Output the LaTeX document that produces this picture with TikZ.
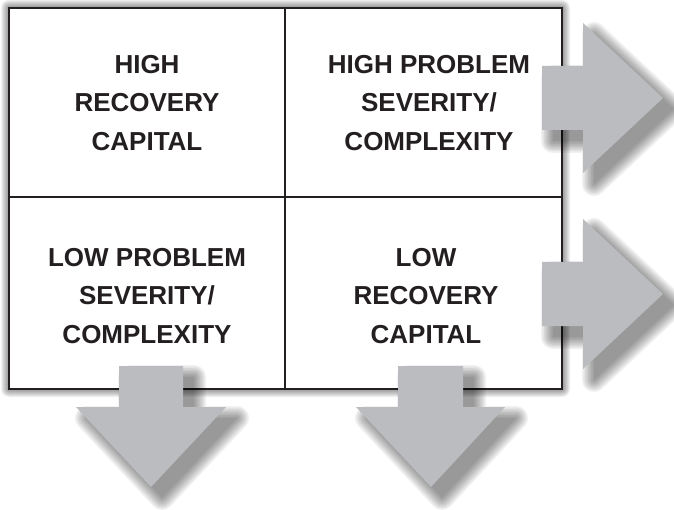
\documentclass[tikz,border=0pt]{standalone}
\usepackage{fontspec}
\setmainfont{Liberation Sans}
\definecolor{arrowgray}{HTML}{BBBCC0}
\definecolor{ink}{HTML}{231F20}
\newcommand{\softshadow}[4]{% #1 offset, #2 widths, #3 opacity, #4 path
  \begin{scope}[shift={(#1,#1)}]
    \foreach \w in {#2} {%
      \begin{scope}[transparency group, opacity=#3]
        \filldraw[black, line width=\w pt, line join=round] #4;
      \end{scope}}
    \begin{scope}[transparency group, opacity=#3]
      \fill[black] #4;
    \end{scope}
  \end{scope}}
\begin{document}
\begin{tikzpicture}[x=1pt,y=-1pt,
  celltext/.style={align=center, inner sep=0pt, text=ink, font=\fontsize{26}{38.5}\selectfont\bfseries},
  frame/.style={draw=ink, line width=2pt},
  arrowfill/.style={fill=arrowgray, draw=none}]
\useasboundingbox (0,0) rectangle (674,510);
% frame with shadow
\coordinate (tl) at (9,8);
\coordinate (br) at (562,389);
\coordinate (mt) at (285,8);
\coordinate (mb) at (285,389);
\coordinate (ml) at (9,197);
\coordinate (mr) at (562,197);
\softshadow{9}{16,14,...,2}{0.06}{(tl) rectangle (br)}
\fill[white] (tl) rectangle (br);
\draw[frame] (tl) rectangle (br);
\draw[frame] (mt) -- (mb);
\draw[frame] (ml) -- (mr);
% cell texts
\node[celltext] (hrc) at (147,103) {HIGH\\RECOVERY\\CAPITAL};
\node[celltext] (hps) at (429,103) {HIGH PROBLEM\\SEVERITY/\\COMPLEXITY};
\node[celltext] (lps) at (147,296) {LOW PROBLEM\\SEVERITY/\\COMPLEXITY};
\node[celltext] (lrc) at (426,296) {LOW\\RECOVERY\\CAPITAL};
% arrows
\def\arrA{(542,66) -- (583,66) -- (583,23) -- (663,98) -- (583,173) -- (583,130) -- (542,130) -- cycle}
\def\arrB{(542,262) -- (583,262) -- (583,219) -- (663,294) -- (583,369) -- (583,326) -- (542,326) -- cycle}
\def\arrC{(119,366) -- (183,366) -- (183,407) -- (226,407) -- (151,487) -- (76,407) -- (119,407) -- cycle}
\def\arrD{(398,366) -- (463,366) -- (463,407) -- (505,407) -- (431,487) -- (356,407) -- (398,407) -- cycle}
\softshadow{11}{24,21,...,3}{0.055}{\arrA}
\softshadow{11}{24,21,...,3}{0.055}{\arrB}
\softshadow{11}{24,21,...,3}{0.055}{\arrC}
\softshadow{11}{24,21,...,3}{0.055}{\arrD}
\path[arrowfill] \arrA;
\path[arrowfill] \arrB;
\path[arrowfill] \arrC;
\path[arrowfill] \arrD;
\end{tikzpicture}
\end{document}
